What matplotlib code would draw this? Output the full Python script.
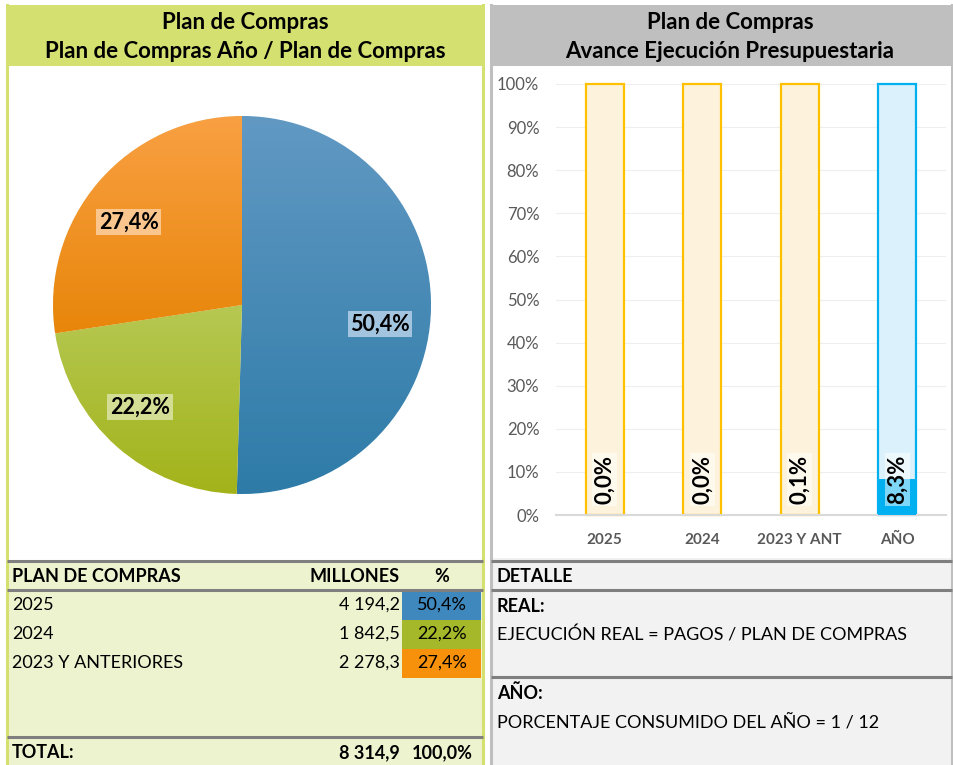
import numpy as np
import matplotlib
matplotlib.use("Agg")
import matplotlib.pyplot as plt
from matplotlib.patches import Rectangle
from matplotlib.colors import LinearSegmentedColormap

plt.rcParams["font.family"] = ["Lato", "DejaVu Sans"]

W, H = 954, 765

# ---- data ----
pie_labels = ["2025", "2024", "2023 Y ANTERIORES"]
pie_values = [4194.2, 1842.5, 2278.3]
pie_pcts = [50.4, 22.2, 27.4]
total_value = 8314.9

bar_cats = ["2025", "2024", "2023 Y ANT", "AÑO"]
bar_real = [0.0, 0.0, 0.1, 8.3]
bar_full = [100, 100, 100, 100]
yticks = [0, 10, 20, 30, 40, 50, 60, 70, 80, 90, 100]

detail_lines = [("REAL:", "EJECUCIÓN REAL = PAGOS / PLAN DE COMPRAS"),
                ("AÑO:", "PORCENTAJE CONSUMIDO DEL AÑO = 1 / 12")]

# ---- style ----
GREEN_HEAD = "#d4e06f"
GREEN_BODY = "#eef3cf"
GREY_HEAD = "#bfbfbf"
GREY_BODY = "#f2f2f2"
SEP = "#7f7f7f"
pie_grad = [("#6199c3", "#2e7ba8"), ("#b6c852", "#a2b31a"), ("#f9a043", "#e8860a")]
cell_cols = ["#3f88bd", "#a5b82a", "#f7900a"]
TFS = 16     # title font size
FS = 13      # table font size


def fmt_es(v, nd=1):
    s = f"{v:,.{nd}f}"
    return s.replace(",", " ").replace(".", ",")


def ax_box(fig, x0, y0, x1, y1):
    return fig.add_axes([x0 / W, 1 - y1 / H, (x1 - x0) / W, (y1 - y0) / H])


fig = plt.figure(figsize=(W / 100, H / 100), dpi=100)
bg = fig.add_axes([0, 0, 1, 1])
bg.set_xlim(0, W)
bg.set_ylim(H, 0)
bg.axis("off")


def rect(x0, y0, x1, y1, fc, ec="none", lw=0):
    bg.add_patch(Rectangle((x0, y0), x1 - x0, y1 - y0, fc=fc, ec=ec, lw=lw))


def hline(x0, x1, y, c=SEP, lw=2.2):
    bg.plot([x0, x1], [y, y], color=c, lw=lw, solid_capstyle="butt")


# left panel
rect(7, 5, 483, 66, GREEN_HEAD)
rect(7, 66, 483, 561, "white")
rect(7, 561, 483, 765, GREEN_BODY)
bg.plot([7, 7], [5, 765], color=GREEN_HEAD, lw=2.2)
bg.plot([483, 483], [5, 765], color=GREEN_HEAD, lw=2.2)
bg.text(245, 22, "Plan de Compras", ha="center", va="center", fontsize=TFS, fontweight="bold")
bg.text(245, 51, "Plan de Compras Año / Plan de Compras", ha="center", va="center",
        fontsize=TFS, fontweight="bold")

# right panel
rect(491, 5, 952, 66, GREY_HEAD)
rect(491, 66, 952, 558, "white")
rect(491, 558, 952, 765, GREY_BODY)
bg.plot([491, 491], [5, 765], color=GREY_HEAD, lw=2.2)
bg.plot([952, 952], [5, 765], color=GREY_HEAD, lw=2.2)
bg.text(730, 22, "Plan de Compras", ha="center", va="center", fontsize=TFS, fontweight="bold")
bg.text(730, 51, "Avance Ejecución Presupuestaria", ha="center", va="center",
        fontsize=TFS, fontweight="bold")

# left table
hline(7, 483, 561)
hline(7, 483, 590)
hline(7, 483, 737)
bg.text(12, 577, "PLAN DE COMPRAS", va="center", fontsize=FS, fontweight="bold")
bg.text(400, 577, "MILLONES", va="center", ha="right", fontsize=FS, fontweight="bold")
bg.text(442, 577, "%", va="center", ha="center", fontsize=FS, fontweight="bold")
row_y = [605, 634, 663]
for i, (lab, val, pct) in enumerate(zip(pie_labels, pie_values, pie_pcts)):
    y = row_y[i]
    rect(402, y - 14.5, 481, y + 14.5, cell_cols[i])
    bg.text(12, y, lab, va="center", fontsize=FS)
    bg.text(400, y, fmt_es(val), va="center", ha="right", fontsize=FS)
    bg.text(442, y, f"{pct:.1f}%".replace(".", ","), va="center", ha="center", fontsize=FS)
bg.text(12, 753, "TOTAL:", va="center", fontsize=FS, fontweight="bold")
bg.text(400, 753, fmt_es(total_value), va="center", ha="right", fontsize=FS, fontweight="bold")
bg.text(442, 753, f"{sum(pie_pcts):.1f}%".replace(".", ","), va="center", ha="center",
        fontsize=FS, fontweight="bold")

# right detail
hline(491, 952, 561)
hline(491, 952, 590)
hline(491, 952, 677)
bg.text(497, 577, "DETALLE", va="center", fontsize=FS, fontweight="bold")
for (head, body), y in zip(detail_lines, [606, 693]):
    bg.text(497, y, head, va="center", fontsize=FS, fontweight="bold")
    bg.text(497, y + 29, body, va="center", fontsize=FS)

# ---- pie ----
pax = ax_box(fig, 53, 116, 431, 494)
wedges, _ = pax.pie(pie_values, startangle=90, counterclock=False, radius=1,
                    wedgeprops=dict(lw=0.8, ec="white"))
for w, (c0, c1) in zip(wedges, pie_grad):
    ext = w.get_path().get_extents()
    cmap = LinearSegmentedColormap.from_list("g", [c1, c0])
    grad = np.linspace(0, 1, 256).reshape(-1, 1)
    im = pax.imshow(grad, cmap=cmap, origin="lower", aspect="auto",
                    extent=(ext.x0, ext.x1, ext.y0, ext.y1), zorder=w.get_zorder() + 0.1)
    im.set_clip_path(w)
pax.set_xlim(-1, 1)
pax.set_ylim(-1, 1)
pax.set_aspect("equal")
label_pos = [(0.73, -0.1), (-0.54, -0.54), (-0.6, 0.44)]
label_bg = ["#b4d0e8", "#dbe4a6", "#fcd0a0"]
for (x, y), p, b in zip(label_pos, pie_pcts, label_bg):
    pax.text(x, y, f"{p:.1f}%".replace(".", ","), ha="center", va="center",
             fontsize=15.5, fontweight="bold", zorder=5,
             bbox=dict(boxstyle="square,pad=0.12", fc=b, ec="none", alpha=0.85))
pax.axis("off")

# ---- bars ----
bax = ax_box(fig, 556, 84, 946, 515)
x = np.arange(len(bar_cats))
fills = ["#fdf3dc", "#fdf3dc", "#fdf3dc", "#dbf1fb"]
edges = ["#ffc000", "#ffc000", "#ffc000", "#00b0f0"]
bax.bar(x, bar_full, width=0.39, color=fills, edgecolor=edges, lw=1.6, zorder=2, clip_on=False)
bax.bar(x, bar_real, width=0.39, color=["#ffc000", "#ffc000", "#ffc000", "#00b0f0"],
        lw=0, zorder=3)
for xi, v in zip(x, bar_real):
    bax.annotate(f"{v:.1f}%".replace(".", ","), xy=(xi, 0), xytext=(0, 8),
                 textcoords="offset points", rotation=90, ha="center", va="bottom",
                 fontsize=16, fontweight="bold", zorder=5,
                 bbox=dict(boxstyle="square,pad=0.08", fc="white", ec="none", alpha=0.5))
bax.set_xlim(-0.5, 3.5)
bax.set_ylim(0, 100)
bax.set_yticks(yticks)
bax.set_yticklabels([f"{t}%" for t in yticks])
bax.set_xticks(x)
bax.set_xticklabels(bar_cats, fontweight="bold")
bax.tick_params(axis="y", length=0, pad=12, labelsize=12, labelcolor="#595959")
bax.tick_params(axis="x", length=0, pad=13, labelsize=11, labelcolor="#595959")
bax.grid(axis="y", color="#eeeeee", lw=0.8, zorder=0)
bax.set_axisbelow(True)
for s in ["top", "right", "left"]:
    bax.spines[s].set_visible(False)
bax.spines["bottom"].set_color("#d9d9d9")
bax.spines["bottom"].set_linewidth(1.5)
bax.set_facecolor("none")

fig.savefig("out.png", dpi=100)
